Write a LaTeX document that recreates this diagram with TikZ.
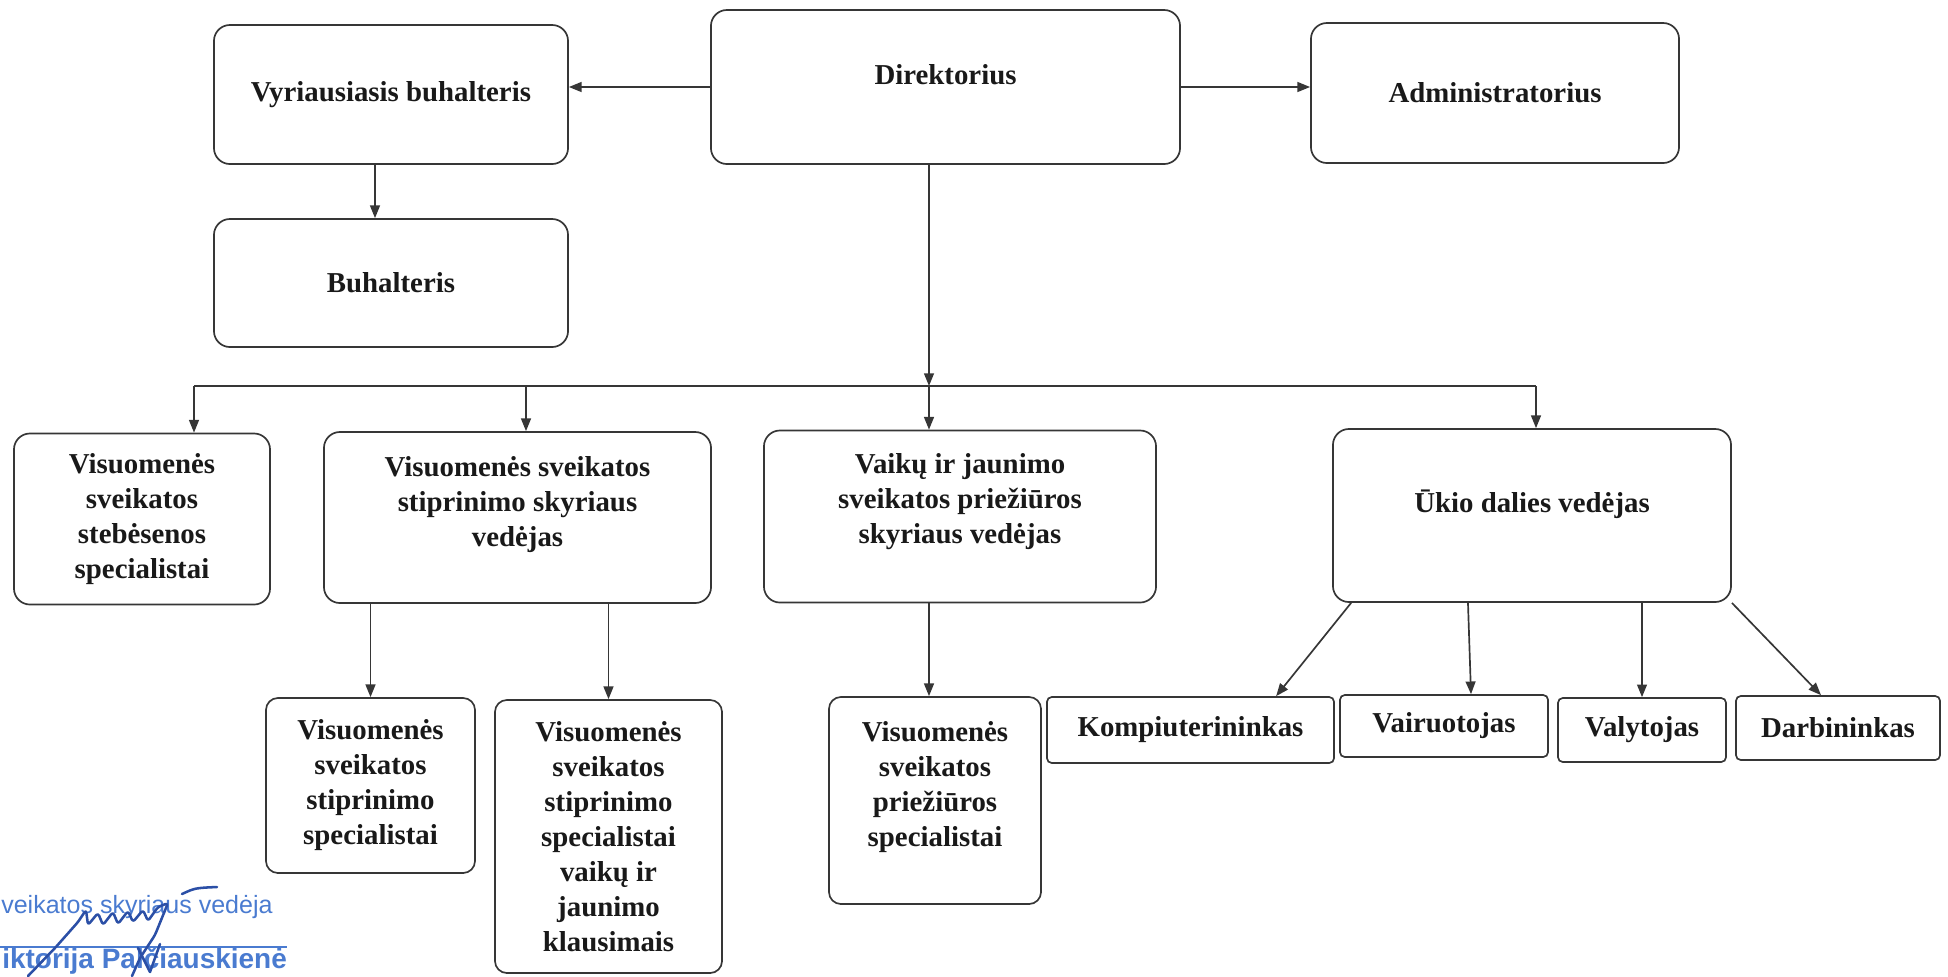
\documentclass[tikz,border=0pt]{standalone}
\usepackage{fontspec}
\setmainfont{Liberation Serif}
\newfontfamily\stampfont{Liberation Sans}
\usetikzlibrary{
	arrows.meta,
	positioning,
	calc,
}
\definecolor{Ink}{HTML}{363636}
\definecolor{StampBlue}{HTML}{4A7BD0}
\definecolor{SignBlue}{HTML}{2B4FA6}

\begin{document}
\begin{tikzpicture}[
        x=0.025cm, y=-0.025cm,
        every node/.style={font=\bfseries\fontsize{20.5pt}{24.9pt}\selectfont, text=black!90},
		box/.style = {rectangle, draw=Ink, line width=1.2pt, rounded corners=4mm,
			align=center, inner sep=2mm},
		tag/.style = {box, rounded corners=1.2mm},
		wh/.style 2 args = {minimum width=#1cm, minimum height=#2cm},
		arr/.style = {draw=Ink, line width=1.2pt, -{Triangle[length=9pt,width=7pt]}},
		stamp/.style = {font=\stampfont\fontsize{17.8pt}{20pt}\selectfont,
			text=StampBlue, inner sep=0pt},
	]
	\useasboundingbox (0,0) rectangle (1948,976);
	\begin{scope}[every node/.append style={box}]
		% management
		\node[wh={11.725}{3.85}, text depth=0.625cm] (dir) at (945.5,87) {Direktorius};
		\node[wh={8.85}{3.475}] (vyr) at (391,94.5) {Vyriausiasis buhalteris};
		\node[wh={9.2}{3.5}] (adm) at (1495,93) {Administratorius};
		\node[wh={8.85}{3.2}] (buh) at (391,283) {Buhalteris};
		% departments
		\node[wh={6.4}{4.275}] (steb) at (142,519)
			{Visuomenės\\ sveikatos\\ stebėsenos\\ specialistai};
		\node[wh={9.675}{4.275}, text depth=0.78cm] (stv) at (517.5,517.5)
			{Visuomenės sveikatos\\ stiprinimo skyriaus\\ vedėjas};
		\node[wh={9.8}{4.3}, text depth=0.88cm] (vjv) at (960,516.5)
			{Vaikų ir jaunimo\\ sveikatos priežiūros\\ skyriaus vedėjas};
		\node[wh={9.95}{4.325}, text depth=0.7cm] (ukio) at (1532,515.5) {Ūkio dalies vedėjas};
		% specialists
		\node[wh={5.225}{4.375}, rounded corners=3mm] (sts) at (370.5,785.5)
			{Visuomenės\\ sveikatos\\ stiprinimo\\ specialistai};
		\node[wh={5.675}{6.825}, rounded corners=3mm] (vjk) at (608.5,836.5)
			{Visuomenės\\ sveikatos\\ stiprinimo\\ specialistai\\ vaikų ir\\ jaunimo\\ klausimais};
		\node[wh={5.3}{5.175}, rounded corners=3mm, text depth=0.83cm] (prs) at (935,800.5)
			{Visuomenės\\ sveikatos\\ priežiūros\\ specialistai};
		% staff
		\node[tag, wh={7.175}{1.65}] (komp) at (1190.5,730) {Kompiuterininkas};
		\node[tag, wh={5.2}{1.55}] (vair) at (1444,726) {Vairuotojas};
		\node[tag, wh={4.2}{1.6}] (valy) at (1642,730) {Valytojas};
		\node[tag, wh={5.1}{1.6}] (darb) at (1838,728) {Darbininkas};
	\end{scope}
	% bus
	\coordinate (b1) at (194,386);
	\coordinate (b2) at (526,386);
	\coordinate (jn) at (929,386);
	\coordinate (b4) at (1536,386);
	\draw[Ink, line width=1.2pt] (b1) -- (b4);
	\foreach \b/\n in {b1/steb, b2/stv, b4/ukio}
		\draw[arr] (\b) -- (\b |- \n.north);
	\draw[arr] (dir.south -| jn) -- (jn);
	\draw[arr] (jn) -- (jn |- vjv.north);
	% top connectors
	\draw[arr] (dir.west) -- (dir.west -| vyr.east);
	\draw[arr] (dir.east) -- (dir.east -| adm.west);
	\draw[arr] ([xshift=-0.4cm]vyr.south) -- ([xshift=-0.4cm]buh.north);
	% lower connectors
	\draw[arr] (sts.north |- stv.south) -- (sts.north);
	\draw[arr] (vjk.north |- stv.south) -- (vjk.north);
	\draw[arr] (vjv.south -| jn) -- (prs.north -| jn);
	\draw[arr] ([xshift=0.475cm]ukio.south west) -- ([xshift=2.14cm]komp.north);
	\draw[arr] ([xshift=-1.6cm]ukio.south) -- ([xshift=0.675cm]vair.north);
	\draw[arr] (valy.north |- ukio.south) -- (valy.north);
	\draw[arr] (ukio.south east) -- ([xshift=-0.425cm]darb.north);
	% stamp
	\node[stamp, anchor=base west] (role) at (1,913) {veikatos skyriaus vedėja};
	\draw[StampBlue, line width=0.8pt] (0,947) -- (287,947);
	\node[stamp, font=\stampfont\bfseries\fontsize{19.9pt}{22pt}\selectfont,
		anchor=base west] (name) at (2,968) {iktorija Palčiauskienė};
	\draw[SignBlue, line width=1.8pt, line cap=round, line join=round, rounded corners=2pt]
		(28,976) -- (55,948) -- (78,922) -- (86,910) -- (88,925) -- (98,913)
		-- (103,925) -- (113,912) -- (118,924) -- (128,911) -- (133,922)
		-- (143,910) -- (148,921) -- (158,907) -- (168,903) -- (155,935)
		-- (140,958) -- (132,976);
	\draw[SignBlue, line width=1.8pt, line cap=round, line join=round] (138,948) -- (150,972) -- (160,944);
	\draw[SignBlue, line width=1.8pt, line cap=round] (182,894) .. controls (195,888) .. (217,887);
\end{tikzpicture}
\end{document}
